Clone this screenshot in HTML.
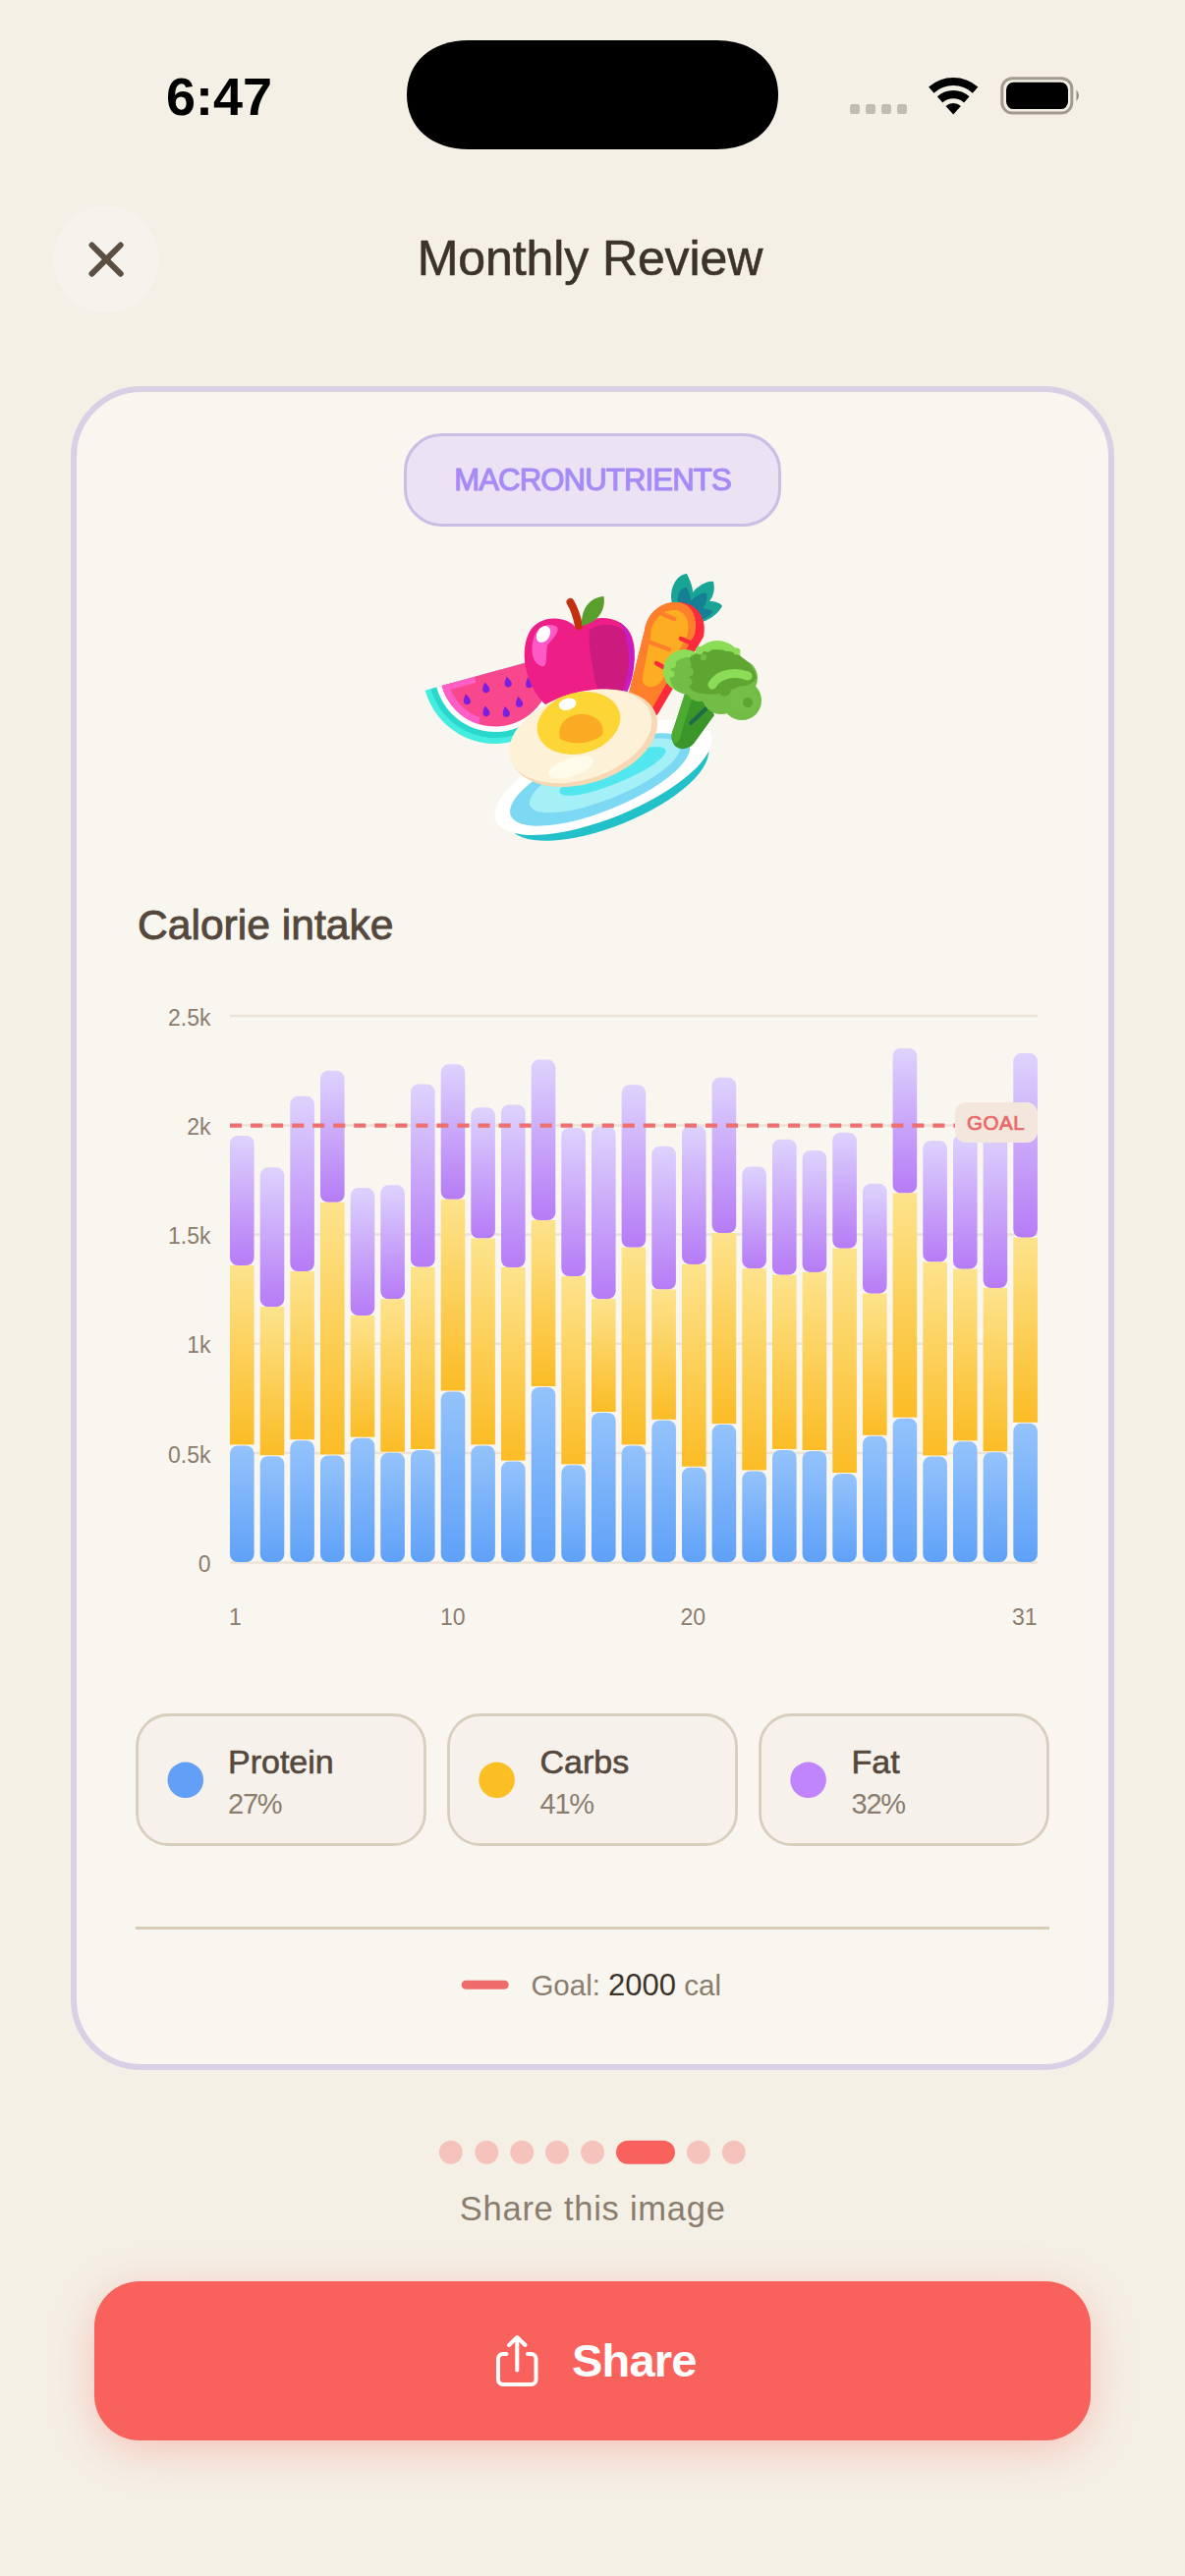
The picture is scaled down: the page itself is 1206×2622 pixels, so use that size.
<!DOCTYPE html>
<html><head><meta charset="utf-8">
<style>
html,body{margin:0;padding:0;background:#f4f0e6;width:1206px;height:2622px;overflow:hidden;}
svg{position:absolute;left:0;top:0;display:block;}
text{font-family:"Liberation Sans",sans-serif;}
</style></head><body>
<svg width="1206" height="2622" viewBox="0 0 1206 2622">
<defs>
<linearGradient id="gp" x1="0" y1="0" x2="0" y2="1"><stop offset="0" stop-color="#ddd3fd"/><stop offset="1" stop-color="#b67bf6"/></linearGradient>
<linearGradient id="gy" x1="0" y1="0" x2="0" y2="1"><stop offset="0" stop-color="#fde38c"/><stop offset="1" stop-color="#fbbc26"/></linearGradient>
<linearGradient id="gb" x1="0" y1="0" x2="0" y2="1"><stop offset="0" stop-color="#94c3fb"/><stop offset="1" stop-color="#5fa1f8"/></linearGradient>
<filter id="sh" x="-20%" y="-80%" width="140%" height="260%"><feGaussianBlur stdDeviation="24"/></filter>
</defs>
<rect x="0" y="0" width="1206" height="2622" fill="#f4f0e6"/>
<!-- status bar -->
<text x="169" y="117" font-size="54" font-weight="bold" fill="#000">6:47</text>
<path d="M477 41 H729 C766.8 41 792 63.2 792 96.5 C792 129.8 766.8 152 729 152 H477 C439.2 152 414 129.8 414 96.5 C414 63.2 439.2 41 477 41 Z" fill="#000"/>
<rect x="865" y="106" width="10" height="10" rx="2.5" fill="#c2bdb3"/>
<rect x="881" y="106" width="10" height="10" rx="2.5" fill="#c2bdb3"/>
<rect x="897" y="106" width="10" height="10" rx="2.5" fill="#c2bdb3"/>
<rect x="913" y="106" width="10" height="10" rx="2.5" fill="#c2bdb3"/>
<g id="wifi" fill="none" stroke="#000" stroke-width="8.2" stroke-linecap="butt">
<path d="M947.8 91.6 A33.5 33.5 0 0 1 992.6 91.6"/>
<path d="M956.6 101.4 A20.3 20.3 0 0 1 983.8 101.4"/>
<path d="M970.2 116.5 L962.5 107.95 A11.5 11.5 0 0 1 977.9 107.95 Z" fill="#000" stroke="none"/>
</g>
<rect x="1019.8" y="79.7" width="71" height="35.4" rx="10.5" fill="none" stroke="#a19b91" stroke-width="3"/>
<rect x="1024" y="83.7" width="63" height="27.4" rx="7.5" fill="#000"/>
<path d="M1095.5 91.5 Q1100.5 97.3 1095.5 103 Z" fill="#8f8a80"/>
<!-- header -->
<circle cx="108" cy="264" r="54" fill="#f6f2ec"/>
<path d="M93.5 249.5 L122.7 278.7 M122.7 249.5 L93.5 278.7" stroke="#5c4f42" stroke-width="6" stroke-linecap="round"/>
<text x="600.5" y="280" font-size="50" text-anchor="middle" fill="#3d3329" stroke="#3d3329" stroke-width="0.6" letter-spacing="-0.1">Monthly Review</text>
<!-- card -->
<rect x="75" y="396" width="1056" height="1708" rx="69" fill="#f9f5ef" stroke="#d9d0e6" stroke-width="6"/>
<rect x="412.5" y="442.5" width="381" height="92" rx="37" fill="#ebe3f4" stroke="#c9bee3" stroke-width="3"/>
<text x="603" y="499" font-size="31" text-anchor="middle" letter-spacing="-0.8" fill="#a68af6" stroke="#a68af6" stroke-width="1.1">MACRONUTRIENTS</text>
<g id="food">
<!-- watermelon -->
<g transform="translate(504 683) rotate(-15.5)">
<path d="M-74 0 A74 74 0 0 0 74 0 Z" fill="#45ece0"/>
<path d="M-68 0 A68 68 0 0 0 68 0 Z" fill="#2ad7cc"/>
<path d="M-62 0 A62 62 0 0 0 62 0 Z" fill="#ffffff"/>
<path d="M-56.5 0 A56.5 56.5 0 0 0 56.5 0 Z" fill="#f8478c"/>
<path d="M-56.5 0 A56.5 56.5 0 0 0 -30 48 L-28 41 A49 49 0 0 1 -49 0 Z" fill="#ff5ec6"/>
<path d="M-56.5 0 L-22 0 L-22 6 L-49 6 Z" fill="#ff5ec6"/>
</g>
<g fill="#7b1fdf">
<path transform="translate(475 711.9) rotate(-12) scale(0.85)" d="M0 -6.5 C2 -3.5 4.2 -0.5 4.2 2.3 C4.2 4.8 2.3 6.3 0 6.3 C-2.3 6.3 -4.2 4.8 -4.2 2.3 C-4.2 -0.5 -2 -3.5 0 -6.5 Z"/>
<path transform="translate(494.4 699.9) rotate(-12) scale(0.85)" d="M0 -6.5 C2 -3.5 4.2 -0.5 4.2 2.3 C4.2 4.8 2.3 6.3 0 6.3 C-2.3 6.3 -4.2 4.8 -4.2 2.3 C-4.2 -0.5 -2 -3.5 0 -6.5 Z"/>
<path transform="translate(516.8 694.2) rotate(-12) scale(0.85)" d="M0 -6.5 C2 -3.5 4.2 -0.5 4.2 2.3 C4.2 4.8 2.3 6.3 0 6.3 C-2.3 6.3 -4.2 4.8 -4.2 2.3 C-4.2 -0.5 -2 -3.5 0 -6.5 Z"/>
<path transform="translate(538.3 694.8) rotate(-12) scale(0.85)" d="M0 -6.5 C2 -3.5 4.2 -0.5 4.2 2.3 C4.2 4.8 2.3 6.3 0 6.3 C-2.3 6.3 -4.2 4.8 -4.2 2.3 C-4.2 -0.5 -2 -3.5 0 -6.5 Z"/>
<path transform="translate(494.6 723.9) rotate(-12) scale(0.85)" d="M0 -6.5 C2 -3.5 4.2 -0.5 4.2 2.3 C4.2 4.8 2.3 6.3 0 6.3 C-2.3 6.3 -4.2 4.8 -4.2 2.3 C-4.2 -0.5 -2 -3.5 0 -6.5 Z"/>
<path transform="translate(514.9 724.5) rotate(-12) scale(0.85)" d="M0 -6.5 C2 -3.5 4.2 -0.5 4.2 2.3 C4.2 4.8 2.3 6.3 0 6.3 C-2.3 6.3 -4.2 4.8 -4.2 2.3 C-4.2 -0.5 -2 -3.5 0 -6.5 Z"/>
<path transform="translate(528.2 714.5) rotate(-12) scale(0.85)" d="M0 -6.5 C2 -3.5 4.2 -0.5 4.2 2.3 C4.2 4.8 2.3 6.3 0 6.3 C-2.3 6.3 -4.2 4.8 -4.2 2.3 C-4.2 -0.5 -2 -3.5 0 -6.5 Z"/>
</g>
<!-- apple -->
<path d="M586 639 C578 627 548 624 538 645 C528 666 536 700 556 718 C570 731 600 735 618 724 C642 706 651 670 643 648 C636 628 606 622 586 639 Z" fill="#ee1e87"/>
<path d="M600 641 C615 631 636 636 642 652 C648 675 640 706 620 724 C612 712 606 700 604 684 C603 672 598 660 600 641 Z" fill="#cd1a7f"/>
<path d="M630 633 C642 640 648 660 645 680 C643 698 636 712 626 722 C634 705 640 690 640 672 C640 655 636 642 630 633 Z" fill="#c61cc6"/>
<path d="M543 650 C546 637 560 633 567 638 C570 644 562 650 557 657 C555 668 558 680 551 678 C541 675 540 660 543 650 Z" fill="#fd5ac8"/>
<ellipse cx="553" cy="645.5" rx="6.5" ry="9" transform="rotate(30 553 645.5)" fill="#fff"/>
<path d="M580.5 613 Q586 622 589 637" stroke="#c2300f" stroke-width="8" stroke-linecap="round" fill="none"/>
<path d="M592 637 C591 620 600 608 614.5 607 C617 622 607 634 592 637 Z" fill="#5a9e2e"/>
<!-- carrot leaves -->
<path d="M684 614 C680 598 690 584 699 584 C703 592 705 598 705 603 C712 595 720 591 726 592 C728 600 726 607 722 612 C728 612 734 614 735 617 C730 626 720 632 712 634 Z" fill="#19a595"/>
<path d="M690 616 C688 604 694 597 699 598 C702 604 703 608 703 612 C708 606 716 602 719 604 C721 610 718 616 715 619 C719 620 724 621 726 622 C722 628 715 631 710 632 Z" fill="#167f96"/>
<!-- carrot -->
<path d="M656 642 C659 622 675 612 691 613 C710 614 720 630 716 648 L670 726 C661 739 640 738 636 722 Z" fill="#fc2a3a"/>
<path d="M656 642 C659 622 674 612 689 613 C704 614 711 628 707 646 L662 724 C655 736 640 736 636 722 Z" fill="#fd7f2c"/>
<path d="M662 648 C663 630 675 620 688 621 C699 623 703 634 699 648 L674 692 C667 703 652 701 654 689 Z" fill="#fdad22"/>
<g stroke="#fd7f2c" stroke-width="4.5" stroke-linecap="round">
<line x1="672" y1="624" x2="686" y2="630"/>
<line x1="662" y1="654" x2="681" y2="661"/>
</g>
<g stroke="#fc2a3a" stroke-width="4.5" stroke-linecap="round">
<line x1="693" y1="650" x2="702" y2="654"/>
<line x1="668" y1="675" x2="675" y2="679"/>
</g>
<!-- plate -->
<ellipse cx="619" cy="800" rx="109" ry="41" transform="rotate(-22 619 800)" fill="#22c1c9"/>
<g transform="rotate(-22 614 791)">
<ellipse cx="614" cy="791" rx="118" ry="42" fill="#ffffff"/>
<ellipse cx="610" cy="792" rx="98" ry="32" fill="#7dd9f3"/>
<ellipse cx="616" cy="790" rx="82" ry="24" fill="#a5eff6"/>
<ellipse cx="625" cy="789" rx="58" ry="13" fill="#52e7ef"/>
</g>
<!-- egg -->
<g transform="rotate(-18 592 750)">
<ellipse cx="594" cy="752" rx="77" ry="46" fill="#f7d8b5"/>
<ellipse cx="591" cy="749" rx="75" ry="44" fill="#fdf2d7"/>
<ellipse cx="572" cy="776" rx="24" ry="9" fill="#fffbea"/>
</g>
<ellipse cx="589" cy="736" rx="43" ry="31" transform="rotate(-15 589 736)" fill="#fdd535"/>
<path d="M570 752 C566 735 580 726 594 727 C608 728 616 738 613 748 C604 756 584 760 570 752 Z" fill="#fbab23"/>
<ellipse cx="577.6" cy="716.7" rx="9" ry="6" transform="rotate(-15 577.6 716.7)" fill="#fff"/>
<!-- broccoli stem -->
<path d="M697 706 L722 716 L727 728 L706 757 C700 764 688 764 685 756 C682 750 684 745 686 740 Z" fill="#3a9629"/>
<path d="M697 706 L705 709 L694 744 C692 752 690 758 686 756 C682 750 684 745 686 740 Z" fill="#4dab31"/>
<path d="M703 736 L721 719" stroke="#1c6a4a" stroke-width="4" stroke-linecap="round"/>
<!-- broccoli head -->
<g fill="#8ddc57">
<circle cx="697" cy="683" r="22"/>
<circle cx="730" cy="678" r="26"/>
</g>
<g fill="#72bd45">
<circle cx="700.5" cy="688" r="19"/>
<circle cx="732" cy="684.5" r="22"/>
<circle cx="755" cy="713" r="20"/>
<circle cx="752" cy="690" r="19"/>
<circle cx="734" cy="707" r="20"/>
<circle cx="712" cy="700" r="14"/>
</g>
<path d="M703 668 C712 663 726 660 738 662 C752 664 768 676 770 690 C766 698 752 700 744 702 C734 706 724 708 716 706 C708 706 702 702 700 696 C704 690 698 686 702 680 C706 676 700 672 703 668 Z" fill="#5ea532"/>
<g fill="#8ddc57">
<circle cx="712" cy="662" r="4.2"/><circle cx="720" cy="660" r="3.8"/><circle cx="740" cy="659" r="4"/><circle cx="750" cy="663" r="3.5"/>
<circle cx="684" cy="676" r="4"/><circle cx="683" cy="686" r="3.5"/>
</g>
<g fill="#72bd45">
<circle cx="701" cy="684" r="5"/><circle cx="700" cy="694" r="4.5"/><circle cx="716" cy="669" r="3.2"/>
</g>
<circle cx="757" cy="712" r="14" fill="#74bf47"/>
<path d="M725 697 C730 688 744 682 761 688" stroke="#8ddc57" stroke-width="9" stroke-linecap="round" fill="none"/>
<path d="M739 693 C744 698 746 704 740 708 C734 710 730 705 732 700 Z" fill="#5ea532"/>
<circle cx="761" cy="715" r="5" fill="#5ea532"/>
</g>
<text x="140" y="956" font-size="42.6" fill="#55483b" stroke="#55483b" stroke-width="0.9">Calorie intake</text>
<!-- grid -->
<g stroke="#ebe2d8" stroke-width="2.5">
<line x1="234" y1="1034" x2="1056" y2="1034"/>
<line x1="234" y1="1145.6" x2="1056" y2="1145.6"/>
<line x1="234" y1="1256.6" x2="1056" y2="1256.6"/>
<line x1="234" y1="1367.7" x2="1056" y2="1367.7"/>
<line x1="234" y1="1478.9" x2="1056" y2="1478.9"/>
<line x1="234" y1="1590.5" x2="1056" y2="1590.5"/>
</g>
<g font-size="23" fill="#8b7d6e" text-anchor="end">
<text x="214.5" y="1044.3">2.5k</text>
<text x="214.5" y="1155.3">2k</text>
<text x="214.5" y="1266.3">1.5k</text>
<text x="214.5" y="1377.4">1k</text>
<text x="214.5" y="1488.6">0.5k</text>
<text x="214.5" y="1599.6">0</text>
</g>
<g id="bars">
<rect x="234.0" y="1156" width="24.6" height="132.0" rx="8" fill="url(#gp)"/>
<rect x="234.0" y="1288" width="24.6" height="182.4" fill="url(#gy)"/>
<rect x="234.0" y="1471.4" width="24.6" height="118.6" rx="8" fill="url(#gb)"/>
<rect x="264.7" y="1188.3" width="24.6" height="141.9" rx="8" fill="url(#gp)"/>
<rect x="264.7" y="1330.2" width="24.6" height="151.0" fill="url(#gy)"/>
<rect x="264.7" y="1482.2" width="24.6" height="107.8" rx="8" fill="url(#gb)"/>
<rect x="295.3" y="1115.8" width="24.6" height="178.2" rx="8" fill="url(#gp)"/>
<rect x="295.3" y="1294" width="24.6" height="171.2" fill="url(#gy)"/>
<rect x="295.3" y="1466.2" width="24.6" height="123.8" rx="8" fill="url(#gb)"/>
<rect x="326.0" y="1089.8" width="24.6" height="134.0" rx="8" fill="url(#gp)"/>
<rect x="326.0" y="1223.8" width="24.6" height="256.7" fill="url(#gy)"/>
<rect x="326.0" y="1481.5" width="24.6" height="108.5" rx="8" fill="url(#gb)"/>
<rect x="356.7" y="1209.1" width="24.6" height="129.9" rx="8" fill="url(#gp)"/>
<rect x="356.7" y="1339" width="24.6" height="123.7" fill="url(#gy)"/>
<rect x="356.7" y="1463.7" width="24.6" height="126.3" rx="8" fill="url(#gb)"/>
<rect x="387.3" y="1206.3" width="24.6" height="116.0" rx="8" fill="url(#gp)"/>
<rect x="387.3" y="1322.3" width="24.6" height="155.4" fill="url(#gy)"/>
<rect x="387.3" y="1478.7" width="24.6" height="111.3" rx="8" fill="url(#gb)"/>
<rect x="418.0" y="1103.6" width="24.6" height="186.1" rx="8" fill="url(#gp)"/>
<rect x="418.0" y="1289.7" width="24.6" height="185.3" fill="url(#gy)"/>
<rect x="418.0" y="1476.0" width="24.6" height="114.0" rx="8" fill="url(#gb)"/>
<rect x="448.7" y="1083.2" width="24.6" height="137.6" rx="8" fill="url(#gp)"/>
<rect x="448.7" y="1220.8" width="24.6" height="194.7" fill="url(#gy)"/>
<rect x="448.7" y="1416.5" width="24.6" height="173.5" rx="8" fill="url(#gb)"/>
<rect x="479.3" y="1127.2" width="24.6" height="133.3" rx="8" fill="url(#gp)"/>
<rect x="479.3" y="1260.5" width="24.6" height="209.9" fill="url(#gy)"/>
<rect x="479.3" y="1471.4" width="24.6" height="118.6" rx="8" fill="url(#gb)"/>
<rect x="510.0" y="1124.4" width="24.6" height="165.7" rx="8" fill="url(#gp)"/>
<rect x="510.0" y="1290.1" width="24.6" height="196.5" fill="url(#gy)"/>
<rect x="510.0" y="1487.6" width="24.6" height="102.4" rx="8" fill="url(#gb)"/>
<rect x="540.7" y="1078.6" width="24.6" height="163.4" rx="8" fill="url(#gp)"/>
<rect x="540.7" y="1242" width="24.6" height="169.0" fill="url(#gy)"/>
<rect x="540.7" y="1412.0" width="24.6" height="178.0" rx="8" fill="url(#gb)"/>
<rect x="571.3" y="1147.8" width="24.6" height="151.2" rx="8" fill="url(#gp)"/>
<rect x="571.3" y="1299" width="24.6" height="191.3" fill="url(#gy)"/>
<rect x="571.3" y="1491.3" width="24.6" height="98.7" rx="8" fill="url(#gb)"/>
<rect x="602.0" y="1146.4" width="24.6" height="175.8" rx="8" fill="url(#gp)"/>
<rect x="602.0" y="1322.2" width="24.6" height="114.8" fill="url(#gy)"/>
<rect x="602.0" y="1438.0" width="24.6" height="152.0" rx="8" fill="url(#gb)"/>
<rect x="632.6" y="1104.2" width="24.6" height="165.6" rx="8" fill="url(#gp)"/>
<rect x="632.6" y="1269.8" width="24.6" height="200.6" fill="url(#gy)"/>
<rect x="632.6" y="1471.4" width="24.6" height="118.6" rx="8" fill="url(#gb)"/>
<rect x="663.3" y="1166.8" width="24.6" height="145.7" rx="8" fill="url(#gp)"/>
<rect x="663.3" y="1312.5" width="24.6" height="132.3" fill="url(#gy)"/>
<rect x="663.3" y="1445.8" width="24.6" height="144.2" rx="8" fill="url(#gb)"/>
<rect x="694.0" y="1145.8" width="24.6" height="141.1" rx="8" fill="url(#gp)"/>
<rect x="694.0" y="1286.9" width="24.6" height="205.8" fill="url(#gy)"/>
<rect x="694.0" y="1493.7" width="24.6" height="96.3" rx="8" fill="url(#gb)"/>
<rect x="724.6" y="1096.8" width="24.6" height="158.2" rx="8" fill="url(#gp)"/>
<rect x="724.6" y="1255" width="24.6" height="194.1" fill="url(#gy)"/>
<rect x="724.6" y="1450.1" width="24.6" height="139.9" rx="8" fill="url(#gb)"/>
<rect x="755.3" y="1187.4" width="24.6" height="103.8" rx="8" fill="url(#gp)"/>
<rect x="755.3" y="1291.2" width="24.6" height="205.2" fill="url(#gy)"/>
<rect x="755.3" y="1497.4" width="24.6" height="92.6" rx="8" fill="url(#gb)"/>
<rect x="786.0" y="1159.7" width="24.6" height="138.0" rx="8" fill="url(#gp)"/>
<rect x="786.0" y="1297.7" width="24.6" height="177.2" fill="url(#gy)"/>
<rect x="786.0" y="1475.9" width="24.6" height="114.1" rx="8" fill="url(#gb)"/>
<rect x="816.6" y="1171" width="24.6" height="123.9" rx="8" fill="url(#gp)"/>
<rect x="816.6" y="1294.9" width="24.6" height="181.1" fill="url(#gy)"/>
<rect x="816.6" y="1477.0" width="24.6" height="113.0" rx="8" fill="url(#gb)"/>
<rect x="847.3" y="1152.8" width="24.6" height="117.9" rx="8" fill="url(#gp)"/>
<rect x="847.3" y="1270.7" width="24.6" height="228.3" fill="url(#gy)"/>
<rect x="847.3" y="1500.0" width="24.6" height="90.0" rx="8" fill="url(#gb)"/>
<rect x="878.0" y="1204.8" width="24.6" height="111.9" rx="8" fill="url(#gp)"/>
<rect x="878.0" y="1316.7" width="24.6" height="144.1" fill="url(#gy)"/>
<rect x="878.0" y="1461.8" width="24.6" height="128.2" rx="8" fill="url(#gb)"/>
<rect x="908.6" y="1066.9" width="24.6" height="147.5" rx="8" fill="url(#gp)"/>
<rect x="908.6" y="1214.4" width="24.6" height="228.3" fill="url(#gy)"/>
<rect x="908.6" y="1443.7" width="24.6" height="146.3" rx="8" fill="url(#gb)"/>
<rect x="939.3" y="1161" width="24.6" height="123.5" rx="8" fill="url(#gp)"/>
<rect x="939.3" y="1284.5" width="24.6" height="197.0" fill="url(#gy)"/>
<rect x="939.3" y="1482.5" width="24.6" height="107.5" rx="8" fill="url(#gb)"/>
<rect x="970.0" y="1155" width="24.6" height="136.7" rx="8" fill="url(#gp)"/>
<rect x="970.0" y="1291.7" width="24.6" height="174.6" fill="url(#gy)"/>
<rect x="970.0" y="1467.3" width="24.6" height="122.7" rx="8" fill="url(#gb)"/>
<rect x="1000.6" y="1150" width="24.6" height="161.0" rx="8" fill="url(#gp)"/>
<rect x="1000.6" y="1311" width="24.6" height="166.2" fill="url(#gy)"/>
<rect x="1000.6" y="1478.2" width="24.6" height="111.8" rx="8" fill="url(#gb)"/>
<rect x="1031.3" y="1072.1" width="24.6" height="187.6" rx="8" fill="url(#gp)"/>
<rect x="1031.3" y="1259.7" width="24.6" height="188.1" fill="url(#gy)"/>
<rect x="1031.3" y="1448.8" width="24.6" height="141.2" rx="8" fill="url(#gb)"/>
</g>
<line x1="234" y1="1145.6" x2="972" y2="1145.6" stroke="#ee6f6f" stroke-width="4.3" stroke-dasharray="12.1 8.94"/>
<rect x="972" y="1122" width="84" height="41" rx="11" fill="#f3e6dd"/>
<text x="1013.6" y="1150" font-size="20.5" text-anchor="middle" fill="#e8686a" stroke="#e8686a" stroke-width="0.7" letter-spacing="0.6">GOAL</text>
<g font-size="23" fill="#8b7d6e">
<text x="233" y="1654">1</text>
<text x="460.7" y="1654" text-anchor="middle">10</text>
<text x="705.3" y="1654" text-anchor="middle">20</text>
<text x="1055.5" y="1654" text-anchor="end">31</text>
</g>
<!-- legend -->
<g fill="#f6f1eb" stroke="#d8cebd" stroke-width="2.8">
<rect x="139.5" y="1745.5" width="293" height="132" rx="32"/>
<rect x="456.5" y="1745.5" width="293" height="132" rx="32"/>
<rect x="773.5" y="1745.5" width="293" height="132" rx="32"/>
</g>
<circle cx="188.8" cy="1811.8" r="18.3" fill="#62a0f8"/>
<circle cx="505.6" cy="1811.8" r="18.3" fill="#fbbf24"/>
<circle cx="822.6" cy="1811.8" r="18.3" fill="#c084fc"/>
<g font-size="34" fill="#55483b" stroke="#55483b" stroke-width="0.6">
<text x="232" y="1805">Protein</text>
<text x="549.5" y="1805">Carbs</text>
<text x="866.5" y="1805">Fat</text>
</g>
<g font-size="29" fill="#8b7d6e" letter-spacing="-1.2">
<text x="232" y="1846">27%</text>
<text x="549.5" y="1846">41%</text>
<text x="866.5" y="1846">32%</text>
</g>
<rect x="138" y="1961" width="930" height="3" fill="#d9cdb9"/>
<rect x="469.7" y="2015.8" width="48" height="9" rx="4.5" fill="#ef6b6b"/>
<text x="540.4" y="2031" font-size="29.5" fill="#8b7d6e">Goal: <tspan fill="#3d3329" font-size="31">2000</tspan> cal</text>
<!-- page dots -->
<g fill="#f5c3bb">
<circle cx="458.8" cy="2190.7" r="12"/>
<circle cx="495.3" cy="2190.7" r="12"/>
<circle cx="531.2" cy="2190.7" r="12"/>
<circle cx="567" cy="2190.7" r="12"/>
<circle cx="603.1" cy="2190.7" r="12"/>
<circle cx="710.9" cy="2190.7" r="12"/>
<circle cx="746.8" cy="2190.7" r="12"/>
</g>
<rect x="627" y="2178.7" width="60" height="24" rx="12" fill="#f9625c"/>
<text x="603.2" y="2260.4" font-size="34.5" letter-spacing="0.75" text-anchor="middle" fill="#8b7d6e">Share this image</text>
<!-- button -->
<rect x="96" y="2332" width="1014" height="162" rx="46" fill="#f9625c" opacity="0.32" filter="url(#sh)"/>
<rect x="96" y="2322" width="1014" height="162" rx="46" fill="#f9625c"/>
<g fill="none" stroke="#fff" stroke-width="4" stroke-linecap="round" stroke-linejoin="round">
<path d="M515.5 2396 H512 a5 5 0 0 0 -5 5 V2422 a5 5 0 0 0 5 5 H540.5 a5 5 0 0 0 5 -5 V2401 a5 5 0 0 0 -5 -5 H537"/>
<path d="M526.3 2412.5 V2379 M518 2387 L526.3 2379 L534.5 2387"/>
</g>
<text x="582" y="2419" font-size="47" font-weight="bold" letter-spacing="-0.8" fill="#fff">Share</text>
</svg>
</body></html>
